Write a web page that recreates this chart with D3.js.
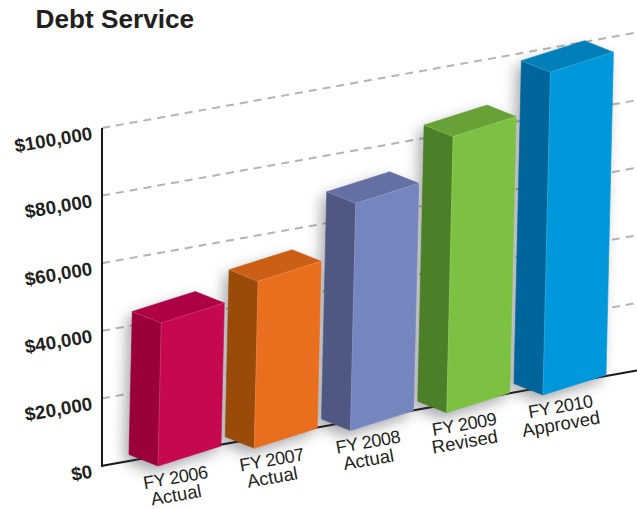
<!DOCTYPE html>
<html>
<head>
<meta charset="utf-8">
<script src="https://cdn.jsdelivr.net/npm/d3@7"></script>
<style>
  html, body { margin: 0; padding: 0; background: #fff; }
  svg { display: block; }
  text { font-family: "Liberation Sans", Arial, sans-serif; fill: #231f20; }
</style>
</head>
<body>
<svg id="chart" width="637" height="509"></svg>
<script>
// Debt service by fiscal year
const categories = ["FY 2006", "FY 2007", "FY 2008", "FY 2009", "FY 2010"];
const statuses = ["Actual", "Actual", "Actual", "Revised", "Approved"];
const values = [42300, 49400, 67200, 81700, 95500];
const tickValues = [0, 20000, 40000, 60000, 80000, 100000];
const frontColors = ["#c5084f", "#e96f1f", "#7585bf", "#7cc142", "#0098db"];
const sideColors = ["#9a0039", "#9a4a09", "#4f5882", "#4b7f28", "#00659a"];
const topColors = ["#ae0044", "#cb5f15", "#646fa3", "#68a236", "#007fb8"];

const svg = d3.select("#chart");
const width = 637;

// Scales: values run up the wall, categories run along the tilted floor
const originX = 102;
const y = d3.scaleLinear().domain([0, 100000]).range([466, 128]);
const height = d3.scaleLinear().domain([0, 100000]).range([0, 338]);
const barX = d3.scalePoint().domain(categories).range([158, 543]);
const barBase = d3.scaleLinear().domain([158, 543]).range([466, 395]);
const wallRise = d3.scaleLinear().domain([originX, width]).range([0, 95.5]);

// Box geometry of each bar, in page units
const faceRun = 63, faceRise = 20, depthRun = 29, depthRise = 11.5, lean = 0.023;

const defs = svg.append("defs");
const blur = defs.append("filter").attr("id", "soft")
  .attr("x", "-40%").attr("y", "-30%").attr("width", "180%").attr("height", "160%");
blur.append("feGaussianBlur").attr("stdDeviation", 7);

const pathOf = pts => d3.line()(pts) + "Z";

// Corner points of one bar's box
function boxCorners(cat, i) {
  const x0 = barX(cat);
  const b0 = barBase(x0);
  const h = height(values[i]);
  const dx = h * lean;
  return {
    fbl: [x0, b0],
    fbr: [x0 + faceRun, b0 - faceRise],
    ftl: [x0 + dx, b0 - h],
    ftr: [x0 + faceRun + dx, b0 - faceRise - h],
    bbl: [x0 - depthRun, b0 - depthRise],
    btl: [x0 - depthRun + dx, b0 - depthRise - h],
    btr: [x0 - depthRun + faceRun + dx, b0 - depthRise - faceRise - h]
  };
}

// Gridlines
svg.append("g").selectAll("line")
  .data(tickValues.filter(d => d > 0))
  .join("line")
  .attr("x1", originX).attr("x2", width)
  .attr("y1", d => y(d))
  .attr("y2", d => y(d) - wallRise(width))
  .attr("stroke", "#b4b4b4")
  .attr("stroke-width", 2)
  .attr("stroke-dasharray", "8 6");

// Axis lines
svg.append("line")
  .attr("x1", originX).attr("x2", originX)
  .attr("y1", y(100000)).attr("y2", y(0) + 1)
  .attr("stroke", "#1a1718").attr("stroke-width", 2);
svg.append("line")
  .attr("x1", originX - 1).attr("x2", width)
  .attr("y1", y(0)).attr("y2", y(0) - wallRise(width))
  .attr("stroke", "#1a1718").attr("stroke-width", 2);

// Value labels
svg.append("g").selectAll("text")
  .data(tickValues)
  .join("text")
  .attr("transform", d => `translate(93,${y(d) + 11.5}) rotate(-9.5)`)
  .attr("text-anchor", "end")
  .attr("font-size", 18.8)
  .attr("font-weight", 700)
  .text(d => "$" + d3.format(",")(d));

// Soft shadows sit under every bar and over the wall
svg.append("g").selectAll("path")
  .data(categories)
  .join("path")
  .attr("d", (cat, i) => {
    const c = boxCorners(cat, i);
    return pathOf([c.btl, c.btr, c.ftr, c.fbr, c.fbl, c.bbl].map(p => [p[0] - 5, p[1] + 6]));
  })
  .attr("fill", "#3c4046")
  .attr("opacity", 0.45)
  .attr("filter", "url(#soft)");

// Bars: side, top and front faces
svg.append("g").selectAll("g")
  .data(categories)
  .join("g")
  .each(function (cat, i) {
    const g = d3.select(this);
    const c = boxCorners(cat, i);
    const faces = [
      { pts: [c.bbl, c.fbl, c.ftl, c.btl], fill: sideColors[i] },
      { pts: [c.btl, c.btr, c.ftr, c.ftl], fill: topColors[i] },
      { pts: [c.fbl, c.fbr, c.ftr, c.ftl], fill: frontColors[i] }
    ];
    g.selectAll("path.face")
      .data(faces)
      .join("path")
      .attr("class", "face")
      .attr("d", f => pathOf(f.pts))
      .attr("fill", f => f.fill)
      .attr("stroke", f => f.fill)
      .attr("stroke-width", 0.6)
      .attr("stroke-linejoin", "round");

    // Lighter seam where the faces meet
    g.append("path")
      .attr("d", d3.line()([c.btl, c.ftl, c.ftr]) + "M" + c.ftl + "L" + c.fbl)
      .attr("fill", "none")
      .attr("stroke", "#ffffff")
      .attr("stroke-opacity", 0.22)
      .attr("stroke-width", 0.7);
  });

// Category labels, two lines following the floor
const labels = svg.append("g").selectAll("g")
  .data(categories)
  .join("g")
  .attr("transform", cat => {
    const x0 = barX(cat);
    return `translate(${x0 + 18.5},${barBase(x0) + 17.5}) rotate(-10)`;
  })
  .attr("text-anchor", "middle");
labels.append("text")
  .attr("font-size", 18)
  .attr("letter-spacing", -0.4)
  .text(d => d);
labels.append("text")
  .attr("x", -2.5).attr("y", 17.5)
  .attr("font-size", 18.4)
  .text((d, i) => statuses[i]);

// Title
svg.append("text")
  .attr("x", 35.5).attr("y", 28)
  .attr("font-size", 26.2)
  .attr("font-weight", 700)
  .text("Debt Service");
</script>
</body>
</html>
